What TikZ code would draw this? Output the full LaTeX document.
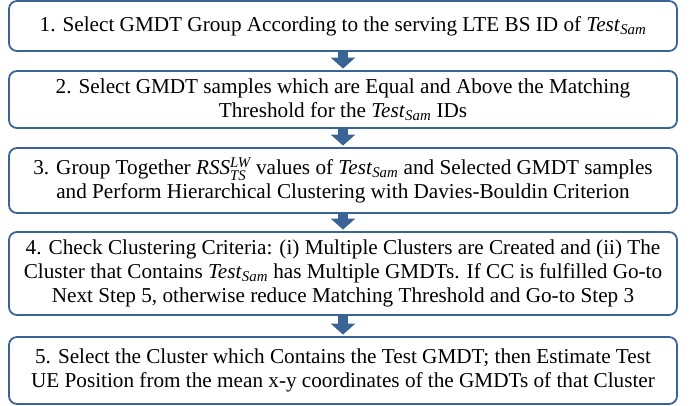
\documentclass[tikz,border=0pt]{standalone}
\usepackage{amsmath}
\usepackage{fontspec}
\setmainfont{Liberation Serif}
\usetikzlibrary{arrows.meta}
\definecolor{boxblue}{RGB}{59,100,150}
\newcommand{\tsam}{\textit{Test}$_{\textit{Sam}}$}
\begin{document}
\begin{tikzpicture}[x=1pt,y=-1pt,
  stepbox/.style={draw=boxblue, line width=1.8pt, rounded corners=8pt,
    minimum width=668pt, inner sep=0pt, align=center,
    font=\fontsize{21.2}{24}\selectfont},
  flowarrow/.style={draw=boxblue, line width=10pt,
    -{Triangle[width=24pt,length=11pt]}, shorten >=1.5pt}]
\useasboundingbox (0,0) rectangle (696,406);
\node[stepbox, minimum height=50pt] (b1) at (343,26)
  {1. Select GMDT Group According to the serving LTE BS ID of \tsam};
\node[stepbox, minimum height=57pt] (b2) at (343,99.5)
  {2. Select GMDT samples which are Equal and Above the Matching\\Threshold for the \tsam{} IDs};
\node[stepbox, minimum height=65pt] (b3) at (343,180.5)
  {3. Group Together \textit{RSS}$^{\textit{LW}}_{\textit{TS}}$ values of \tsam{} and Selected GMDT samples\\and Perform Hierarchical Clustering with Davies-Bouldin Criterion};
\node[stepbox, minimum height=83pt] (b4) at (343,273.5)
  {4. Check Clustering Criteria: (i) Multiple Clusters are Created and (ii) The\\Cluster that Contains \tsam{} has Multiple GMDTs. If CC is fulfilled Go-to\\Next Step 5, otherwise reduce Matching Threshold and Go-to Step 3};
\node[stepbox, minimum height=67pt] (b5) at (343,370.5)
  {5. Select the Cluster which Contains the Test GMDT; then Estimate Test\\UE Position from the mean x-y coordinates of the GMDTs of that Cluster};
\draw[flowarrow] (b1.south) -- (b2.north);
\draw[flowarrow] (b2.south) -- (b3.north);
\draw[flowarrow] (b3.south) -- (b4.north);
\draw[flowarrow] (b4.south) -- (b5.north);
\end{tikzpicture}
\end{document}
